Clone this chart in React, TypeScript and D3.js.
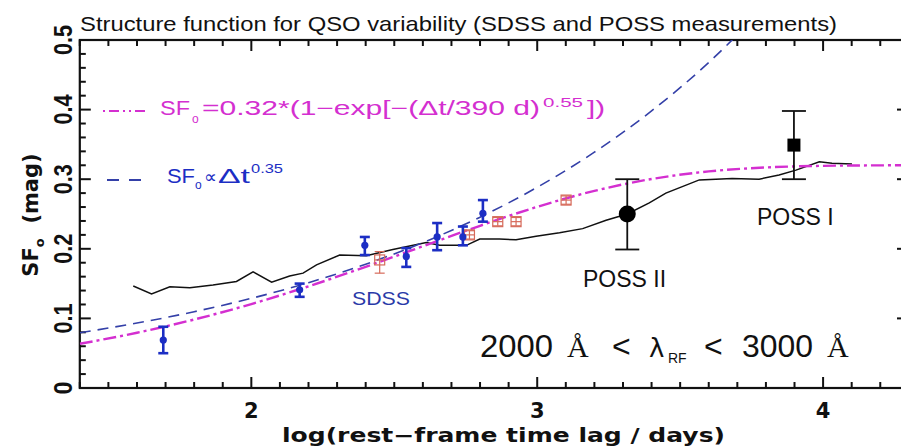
import React from 'react';
import * as d3 from 'd3';

const W = 901;
const H = 448;

const xDomain = [1.4, 4.29];
const yDomain = [0, 0.5];

const xMajorTicks = [2, 3, 4];
const xTickLabels = ['2', '3', '4'];
const yMajorTicks = [0, 0.1, 0.2, 0.3, 0.4, 0.5];
const yTickLabels = ['0', '0.1', '0.2', '0.3', '0.4', '0.5'];

// ensemble structure function (black solid line)
const ensembleLogT = [1.587, 1.651, 1.715, 1.785, 1.866, 1.948, 2.006, 2.071, 2.134, 2.181, 2.228, 2.309, 2.402, 2.495, 2.612, 2.659, 2.752, 2.799, 2.868, 2.926, 2.996, 3.078, 3.159, 3.241, 3.315, 3.392, 3.45, 3.567, 3.682, 3.776, 3.846, 3.905, 3.987, 4.031, 4.101];
const ensembleSF = [0.1466, 0.135, 0.1455, 0.144, 0.148, 0.153, 0.167, 0.152, 0.161, 0.165, 0.177, 0.191, 0.19, 0.199, 0.209, 0.205, 0.205, 0.214, 0.214, 0.213, 0.218, 0.223, 0.229, 0.241, 0.25, 0.266, 0.28, 0.299, 0.301, 0.3, 0.306, 0.313, 0.325, 0.323, 0.322];

// SDSS points (blue)
const sdssLogT = [1.692, 2.169, 2.397, 2.542, 2.65, 2.74, 2.81];
const sdssSF = [0.069, 0.141, 0.205, 0.189, 0.217, 0.217, 0.251];
const sdssLo = [0.05, 0.131, 0.191, 0.174, 0.198, 0.205, 0.239];
const sdssHi = [0.088, 0.15, 0.217, 0.201, 0.237, 0.232, 0.27];

// open red squares
const redLogT = [2.449, 2.763, 2.862, 2.926, 3.101];
const redSF = [0.184, 0.22, 0.239, 0.239, 0.27];
const redLo = [0.165, 0.214, 0.233, 0.233, 0.264];
const redHi = [0.196, 0.226, 0.245, 0.245, 0.276];

// POSS points
const possLogT = [3.315, 3.898];
const possSF = [0.25, 0.349];
const possLo = [0.199, 0.3];
const possHi = [0.3, 0.398];
const possLabels = ['POSS II', 'POSS I'];

// model curves
const fitLogT = [1.4, 1.6, 1.8, 2.0, 2.2, 2.4, 2.6, 2.8, 3.0, 3.2, 3.4, 3.6, 3.8, 4.0, 4.2, 4.3];
const fitSF = [0.0635, 0.0794, 0.0984, 0.1206, 0.1461, 0.1741, 0.2036, 0.2331, 0.2603, 0.2832, 0.3003, 0.3112, 0.3169, 0.3192, 0.3199, 0.32];
const powLogT = [1.4, 1.6, 1.8, 2.0, 2.2, 2.4, 2.6, 2.8, 3.0, 3.2, 3.4, 3.6, 3.8];
const powSF = [0.0794, 0.0933, 0.1096, 0.1288, 0.1513, 0.1778, 0.2089, 0.2454, 0.2884, 0.3388, 0.3981, 0.4677, 0.5495];

const MAGENTA = '#d42fd0';
const NAVY = '#3440a8';
const BLUE = '#1c2ec4';
const RED = '#d66a5a';

export default function App() {
  const x = d3.scaleLinear().domain(xDomain).range([79.8, 906]);
  const y = d3.scaleLinear().domain(yDomain).range([388, 40]);
  const left = x.range()[0];
  const right = x.range()[1];
  const top = y.range()[1];
  const bottom = y.range()[0];

  const xMinor = d3.range(14, 43).map((v) => v / 10).filter((v) => Math.abs(v - Math.round(v)) > 1e-6);
  const yMinor = d3.range(0, 26).map((v) => v / 50).filter((v) => Math.abs(v * 10 - Math.round(v * 10)) > 1e-6);

  const line = d3.line<[number, number]>().x((d) => x(d[0])).y((d) => y(d[1]));
  const smooth = d3.line<[number, number]>().x((d) => x(d[0])).y((d) => y(d[1])).curve(d3.curveMonotoneX);

  const ensemble = line(ensembleLogT.map((t, i) => [t, ensembleSF[i]]) as [number, number][]) || '';
  const fitPath = smooth(fitLogT.map((t, i) => [t, fitSF[i]]) as [number, number][]) || '';
  const powPath = smooth(powLogT.map((t, i) => [t, powSF[i]]) as [number, number][]) || '';

  const sans = 'Liberation Sans, Arial, sans-serif';
  const bold = 'DejaVu Sans, sans-serif';

  return (
    <svg width={W} height={H} viewBox={`0 0 ${W} ${H}`} style={{ position: 'absolute', left: 0, top: 0, background: '#fff' }}>
      <defs>
        <clipPath id="plot">
          <rect x={left} y={top} width={right - left} height={bottom - top} />
        </clipPath>
      </defs>
      <rect x={0} y={0} width={W} height={H} fill="#fff" />

      {/* title */}
      <text x={80} y={31} fontFamily={sans} fontSize={21} textLength={757} lengthAdjust="spacingAndGlyphs" fill="#111">
        Structure function for QSO variability (SDSS and POSS measurements)
      </text>

      {/* frame */}
      <rect x={left} y={top} width={right - left} height={bottom - top} fill="none" stroke="#111" strokeWidth={2.2} />

      {/* ticks */}
      <g stroke="#111" strokeWidth={2}>
        {xMajorTicks.map((t) => (
          <g key={'xM' + t}>
            <line x1={x(t)} x2={x(t)} y1={bottom} y2={bottom - 11} />
            <line x1={x(t)} x2={x(t)} y1={top} y2={top + 11} />
          </g>
        ))}
        {xMinor.map((t) => (
          <g key={'xm' + t}>
            <line x1={x(t)} x2={x(t)} y1={bottom} y2={bottom - 6} />
            <line x1={x(t)} x2={x(t)} y1={top} y2={top + 6} />
          </g>
        ))}
        {yMajorTicks.map((t) => (
          <g key={'yM' + t}>
            <line x1={left} x2={left + 11} y1={y(t)} y2={y(t)} />
            <line x1={right} x2={right - 9} y1={y(t)} y2={y(t)} />
          </g>
        ))}
        {yMinor.map((t) => (
          <g key={'ym' + t}>
            <line x1={left} x2={left + 6} y1={y(t)} y2={y(t)} />
            <line x1={right} x2={right - 5} y1={y(t)} y2={y(t)} />
          </g>
        ))}
      </g>

      {/* tick labels */}
      {xMajorTicks.map((t, i) => (
        <text key={'xl' + t} x={x(t)} y={418} textAnchor="middle" fontFamily={bold} fontWeight="bold" fontSize={21} fill="#111">
          {xTickLabels[i]}
        </text>
      ))}
      {yMajorTicks.map((t, i) => (
        <text
          key={'yl' + t}
          transform={`translate(72,${y(t)}) rotate(-90)`}
          textAnchor="middle"
          fontFamily={sans}
          fontWeight="bold"
          fontSize={25}
          textLength={yTickLabels[i].length > 1 ? 30 : 13}
          lengthAdjust="spacingAndGlyphs"
          fill="#111"
        >
          {yTickLabels[i]}
        </text>
      ))}

      {/* axis titles */}
      <text x={282} y={442} fontFamily={bold} fontWeight="bold" fontSize={19} textLength={443} lengthAdjust="spacingAndGlyphs" fill="#111">
        log(rest−frame time lag / days)
      </text>
      <text transform="translate(38,215) rotate(-90)" textAnchor="middle" fontFamily={bold} fontWeight="bold" fontSize={21} fill="#111">
        SF<tspan fontSize={13} dy={6}>o</tspan>
        <tspan dy={-6}>{'\u00a0\u00a0(mag)'}</tspan>
      </text>

      {/* curves */}
      <g clipPath="url(#plot)" fill="none">
        <path d={ensemble} stroke="#111" strokeWidth={1.5} />
        <path d={powPath} stroke={NAVY} strokeWidth={1.6} strokeDasharray="11,7" />
        <path d={fitPath} stroke={MAGENTA} strokeWidth={2.4} strokeDasharray="13,4,3,4" />
      </g>

      {/* red open squares */}
      <g stroke={RED} strokeWidth={1.2} fill="none">
        {redLogT.map((t, i) => (
          <g key={'r' + i}>
            <line x1={x(t)} x2={x(t)} y1={y(redLo[i])} y2={y(redHi[i])} />
            <line x1={x(t) - 5} x2={x(t) + 5} y1={y(redLo[i])} y2={y(redLo[i])} />
            <line x1={x(t) - 5} x2={x(t) + 5} y1={y(redHi[i])} y2={y(redHi[i])} />
            <rect x={x(t) - 5} y={y(redSF[i]) - 5} width={10} height={10} />
            <line x1={x(t) - 5} x2={x(t) + 5} y1={y(redSF[i])} y2={y(redSF[i])} />
          </g>
        ))}
      </g>

      {/* SDSS blue points */}
      <g stroke={BLUE} fill={BLUE}>
        {sdssLogT.map((t, i) => (
          <g key={'s' + i}>
            <line x1={x(t)} x2={x(t)} y1={y(sdssLo[i])} y2={y(sdssHi[i])} strokeWidth={2.6} />
            <line x1={x(t) - 5} x2={x(t) + 5} y1={y(sdssLo[i])} y2={y(sdssLo[i])} strokeWidth={2.6} />
            <line x1={x(t) - 5} x2={x(t) + 5} y1={y(sdssHi[i])} y2={y(sdssHi[i])} strokeWidth={2.6} />
            <circle cx={x(t)} cy={y(sdssSF[i])} r={3.6} strokeWidth={0} />
          </g>
        ))}
      </g>

      {/* POSS */}
      <g stroke="#111" fill="#000">
        {possLogT.map((t, i) => (
          <g key={'p' + i}>
            <line x1={x(t)} x2={x(t)} y1={y(possLo[i])} y2={y(possHi[i])} strokeWidth={1.8} />
            <line x1={x(t) - 12} x2={x(t) + 12} y1={y(possLo[i])} y2={y(possLo[i])} strokeWidth={1.8} />
            <line x1={x(t) - 12} x2={x(t) + 12} y1={y(possHi[i])} y2={y(possHi[i])} strokeWidth={1.8} />
            {i === 0 ? (
              <circle cx={x(t)} cy={y(possSF[i])} r={8.5} strokeWidth={0} />
            ) : (
              <rect x={x(t) - 6.5} y={y(possSF[i]) - 6.5} width={13} height={13} strokeWidth={0} />
            )}
          </g>
        ))}
      </g>
      <text x={583} y={287} fontFamily={sans} fontSize={23} fill="#111">{possLabels[0]}</text>
      <text x={757} y={225} fontFamily={sans} fontSize={23} fill="#111">{possLabels[1]}</text>

      <text x={352} y={305} fontFamily={sans} fontSize={19} textLength={58} lengthAdjust="spacingAndGlyphs" fill="#2a3aa8">SDSS</text>

      {/* legend: magenta */}
      <line x1={103} x2={149} y1={111} y2={111} stroke={MAGENTA} strokeWidth={2.2} strokeDasharray="2,4,10,4,2,4" />
      <g fontFamily={sans} fill={MAGENTA}>
        <text x={160} y={115} fontSize={20} textLength={30} lengthAdjust="spacingAndGlyphs">SF</text>
        <text x={192} y={123} fontSize={12}>o</text>
        <text x={202} y={115} fontSize={20} textLength={338} lengthAdjust="spacingAndGlyphs">=0.32*(1−exp[−(Δt/390 d)</text>
        <text x={543} y={107} fontSize={13} textLength={40} lengthAdjust="spacingAndGlyphs">0.55</text>
        <text x={587} y={115} fontSize={20} textLength={18} lengthAdjust="spacingAndGlyphs">])</text>
      </g>

      {/* legend: blue */}
      <line x1={107} x2={146} y1={180} y2={180} stroke={NAVY} strokeWidth={1.8} strokeDasharray="12,10" />
      <g fontFamily={sans} fill={BLUE}>
        <text x={167} y={183} fontSize={21} textLength={28} lengthAdjust="spacingAndGlyphs">SF</text>
        <text x={195} y={189} fontSize={12}>o</text>
        <text x={204} y={183} fontSize={18}>∝</text>
        <text x={218} y={183} fontSize={21} textLength={32} lengthAdjust="spacingAndGlyphs">Δt</text>
        <text x={251} y={173} fontSize={13} textLength={32} lengthAdjust="spacingAndGlyphs">0.35</text>
      </g>

      {/* wavelength annotation */}
      <g fontFamily={sans} fontSize={32} fill="#111">
        <text x={480} y={357} textLength={73} lengthAdjust="spacingAndGlyphs">2000</text>
        <text x={567} y={357} fontFamily="Liberation Serif, serif" fontSize={30}>Å</text>
        <text x={612} y={357}>&lt;</text>
        <text x={649} y={357} fontFamily="DejaVu Sans, sans-serif" fontSize={26}>λ</text>
        <text x={668} y={363} fontSize={14}>RF</text>
        <text x={704} y={357}>&lt;</text>
        <text x={742} y={357} textLength={71} lengthAdjust="spacingAndGlyphs">3000</text>
        <text x={827} y={357} fontFamily="Liberation Serif, serif" fontSize={30}>Å</text>
      </g>
    </svg>
  );
}
